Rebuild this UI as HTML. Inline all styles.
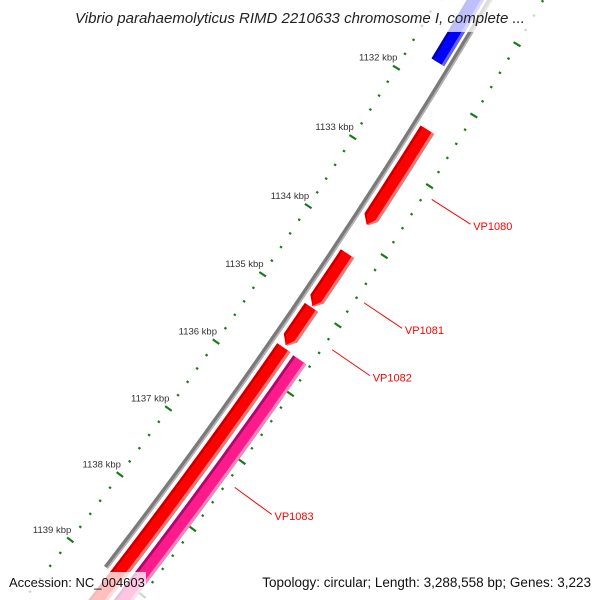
<!DOCTYPE html>
<html><head><meta charset="utf-8"><style>
html,body{margin:0;padding:0;background:#fff;width:600px;height:600px;overflow:hidden;}
svg{display:block;font-family:"Liberation Sans",sans-serif;overflow:hidden;}
</style></head><body>
<svg id="map" width="600" height="600" viewBox="0 0 600 600" xmlns="http://www.w3.org/2000/svg">
<rect x="0" y="0" width="600" height="600" fill="#fff"/>
<g id="ticks"></g>
<g id="backbone"></g>
<g id="features"></g>
<g id="labels"></g>
<rect x="64" y="0" width="472" height="32" fill="#fff" fill-opacity="0.75"/>
<text x="300" y="23" text-anchor="middle" font-size="15" font-style="italic" fill="#222">Vibrio parahaemolyticus RIMD 2210633 chromosome I, complete ...</text>
<rect x="4" y="572" width="142" height="28" fill="#fff" fill-opacity="0.75"/>
<text x="9" y="587" font-size="13" fill="#111">Accession: NC_004603</text>
<rect x="256" y="572" width="340" height="28" fill="#fff" fill-opacity="0.75"/>
<text x="591" y="587" text-anchor="end" font-size="13.5" fill="#111">Topology: circular; Length: 3,288,558 bp; Genes: 3,223</text>
</svg>
<script>
// data
const featureNames = ["blue-feature", "VP1080", "VP1081", "VP1082", "VP1083", "VP1083-cog"];
const featureStart = [1130.0, 1132.44, 1134.22, 1135.0, 1135.59, 1135.6];
const featureEnd = [1131.68, 1133.80, 1134.98, 1135.55, 1139.6, 1139.6];
const featureArrow = [0, 1, 1, 1, 0, 0];
const featureTrack = [-1, 1, 1, 1, 1, 2];
const featureColor = ["blue", "red", "red", "red", "red", "pink"];
const labelNames = ["VP1080", "VP1081", "VP1082", "VP1083"];
const labelKbp = [1133.12, 1134.6, 1135.28, 1137.3];
const tickLabelKbp = [1132, 1133, 1134, 1135, 1136, 1137, 1138, 1139];
const tickStartKbp = 1129;
const tickEndKbp = 1141;
const tickStepKbp = 0.2;

const NS = "http://www.w3.org/2000/svg";
const CX = -4320, CY = -2840.6;
const R_BACK = 5586, R_TICK_IN = 5541, R_TICK_OUT = 5632;
function ang(k){ return (31.66 + (k - 1132) * 0.848) * Math.PI / 180; }
function pt(r, k){ const a = ang(k); return [CX + r * Math.cos(a), CY + r * Math.sin(a)]; }
function f(p){ return p[0].toFixed(2) + " " + p[1].toFixed(2); }
function mk(tag, attrs, parent){
  const el = document.createElementNS(NS, tag);
  for (const k in attrs) el.setAttribute(k, attrs[k]);
  parent.appendChild(el);
  return el;
}
const palette = {
  red: ["#c00000", "#ff7070", "#ff0000"],
  pink: ["#a0106a", "#ff80c0", "#ff1a8c"],
  blue: ["#0000a0", "#6060ff", "#0000ff"]
};
const trackR = { "-1": [5566, 5581], "1": [5592, 5608], "2": [5612, 5628] };

// backbone
const bb = document.getElementById("backbone");
const b1 = mk("path", { d: "M" + f(pt(R_BACK, 1129)) + " A" + R_BACK + " " + R_BACK + " 0 0 1 " + f(pt(R_BACK, 1139)), fill: "none", stroke: "#7a7a7a", "stroke-width": 5 }, bb);


const b2 = mk("path", { d: "M" + f(pt(R_BACK + 1.6, 1129)) + " A" + (R_BACK + 1.6) + " " + (R_BACK + 1.6) + " 0 0 1 " + f(pt(R_BACK + 1.6, 1139)), fill: "none", stroke: "#b4b4b4", "stroke-width": 1.6 }, bb);



// ticks
const tg = document.getElementById("ticks");
const nT = Math.round((tickEndKbp - tickStartKbp) / tickStepKbp);
for (let i = 0; i <= nT; i++) {
  const k = tickStartKbp + i * tickStepKbp;
  const major = Math.abs(k - Math.round(k)) < 1e-6;
  const half = major ? 4 : 1.2;
  [R_TICK_IN, R_TICK_OUT].forEach((r) => {
    const l = mk("line", {}, tg);
    const p1 = pt(r - half, k), p2 = pt(r + half, k);
    l.setAttribute("x1", p1[0]); l.setAttribute("y1", p1[1]);
    l.setAttribute("x2", p2[0]); l.setAttribute("y2", p2[1]);
    l.setAttribute("stroke", "#1a7a1a"); l.setAttribute("stroke-width", 2.2);
    
    
  });
}
tickLabelKbp.forEach((k) => {
  const p = pt(R_TICK_IN, k);
  const t = mk("text", { x: (p[0] + 1).toFixed(1), y: (p[1] - 7).toFixed(1), "text-anchor": "end", "font-size": 9.5, fill: "#333" }, tg);
  t.textContent = k + " kbp";
  
  
});

// features
function featPath(s, e, r1, r2, dir){
  const h = 0.1, rm = (r1 + r2) / 2;
  if (dir === 1) {
    return "M" + f(pt(r1, s)) + " A" + r1 + " " + r1 + " 0 0 1 " + f(pt(r1, e - h)) +
      " L" + f(pt(rm, e)) + " L" + f(pt(r2, e - h)) + " A" + r2 + " " + r2 + " 0 0 0 " + f(pt(r2, s)) + " Z";
  }
  return "M" + f(pt(r1, s)) + " A" + r1 + " " + r1 + " 0 0 1 " + f(pt(r1, e)) +
    " L" + f(pt(r2, e)) + " A" + r2 + " " + r2 + " 0 0 0 " + f(pt(r2, s)) + " Z";
}
const fg = document.getElementById("features");
for (let i = 0; i < featureNames.length; i++) {
  const rr = trackR[String(featureTrack[i])];
  const col = palette[featureColor[i]];
  const g = mk("g", {}, fg);
  
  
  const s = featureStart[i], e = featureEnd[i], d = featureArrow[i];
  mk("path", { d: featPath(s, e, rr[0], rr[1], d), fill: col[0] }, g);
  mk("path", { d: featPath(s, e, rr[0] + 3, rr[1], d), fill: col[1] }, g);
  mk("path", { d: featPath(s, e, rr[0] + 3, rr[1] - 3, d), fill: col[2] }, g);
}

// labels
const lg = document.getElementById("labels");
for (let i = 0; i < labelNames.length; i++) {
  const k = labelKbp[i];
  const p1 = pt(5641, k), p2 = pt(5687, k), p3 = pt(5689, k);
  const l = mk("line", { x1: p1[0], y1: p1[1], x2: p2[0], y2: p2[1], stroke: "#ff0000", "stroke-width": 1 }, lg);
  
  
  const t = mk("text", { x: (p3[0] + 1).toFixed(1), y: (p3[1] + 4.5).toFixed(1), "font-size": 11, fill: "#ff0000" }, lg);
  t.textContent = labelNames[i];
  
  
}
</script>
</body></html>
